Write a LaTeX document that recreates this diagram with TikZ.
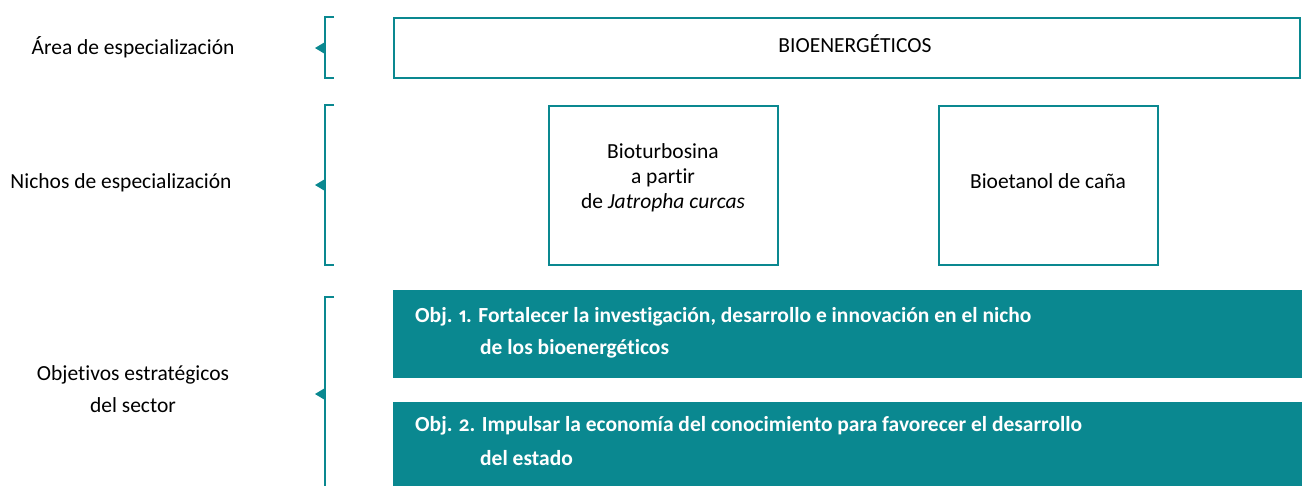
\documentclass[tikz,border=0pt]{standalone}
\usepackage{fontspec}
\setmainfont{Carlito}[Numbers={OldStyle,Proportional},Ligatures=NoCommon]
\definecolor{teal1}{HTML}{0A8890}
\begin{document}
\begin{tikzpicture}[x=1pt,y=-1pt,
  lbl/.style={font=\fontsize{21.5}{32}\selectfont, align=center},
  boxo/.style={draw=teal1, line width=2pt, fill=white},
  btxt/.style={font=\fontsize{21.5}{25}\selectfont, align=center},
  objt/.style={text=white, font=\fontsize{21.5}{26}\bfseries\selectfont, anchor=west, inner sep=0pt},
  brk/.style={draw=teal1, line width=2pt},
  tip/.style={fill=teal1}
]
\useasboundingbox (0,0) rectangle (1302,485);
% brackets
\draw[brk] (334,17) -- (325,17) -- (325,78) -- (334,78);
\fill[tip] (315,48) -- (325,42) -- (325,54) -- cycle;
\draw[brk] (334,105) -- (325,105) -- (325,265) -- (334,265);
\fill[tip] (315,185) -- (325,179) -- (325,191) -- cycle;
\draw[brk] (334,297) -- (325,297) -- (325,486);
\fill[tip] (315,394) -- (325,388) -- (325,400) -- cycle;
% labels
\node[lbl] (la) at (133,47) {Área de especialización};
\node[lbl] (lb) at (121,183) {Nichos de especialización};
\node[lbl] (lc) at (133,389) {Objetivos estratégicos\\del sector};
% boxes
\node[boxo, minimum width=906pt, minimum height=60pt] (bio) at (847,47.5) {};
\node[btxt] (biot) at (855,44) {BIOENERGÉTICOS};
\node[boxo, minimum width=229pt, minimum height=159pt] (n1) at (663,185) {};
\node[btxt] (n1t) at (663,178) {Bioturbosina\\a partir\\de \textit{Jatropha curcas}};
\node[boxo, minimum width=219pt, minimum height=159pt] (n2) at (1048,185) {};
\node[btxt] (n2t) at (1048,181) {Bioetanol de caña};
\fill[teal1] (393,290) rectangle (1302,378);
\fill[teal1] (393,402) rectangle (1302,486);
\node[objt] (o1) at (415,317) {Obj. 1. Fortalecer la investigación, desarrollo e innovación en el nicho};
\node[objt] (o1b) at (480,349) {de los bioenergéticos};
\node[objt] (o2) at (415,426) {Obj. 2. Impulsar la economía del conocimiento para favorecer el desarrollo};
\node[objt] (o2b) at (480,458) {del estado};
\end{tikzpicture}
\end{document}
